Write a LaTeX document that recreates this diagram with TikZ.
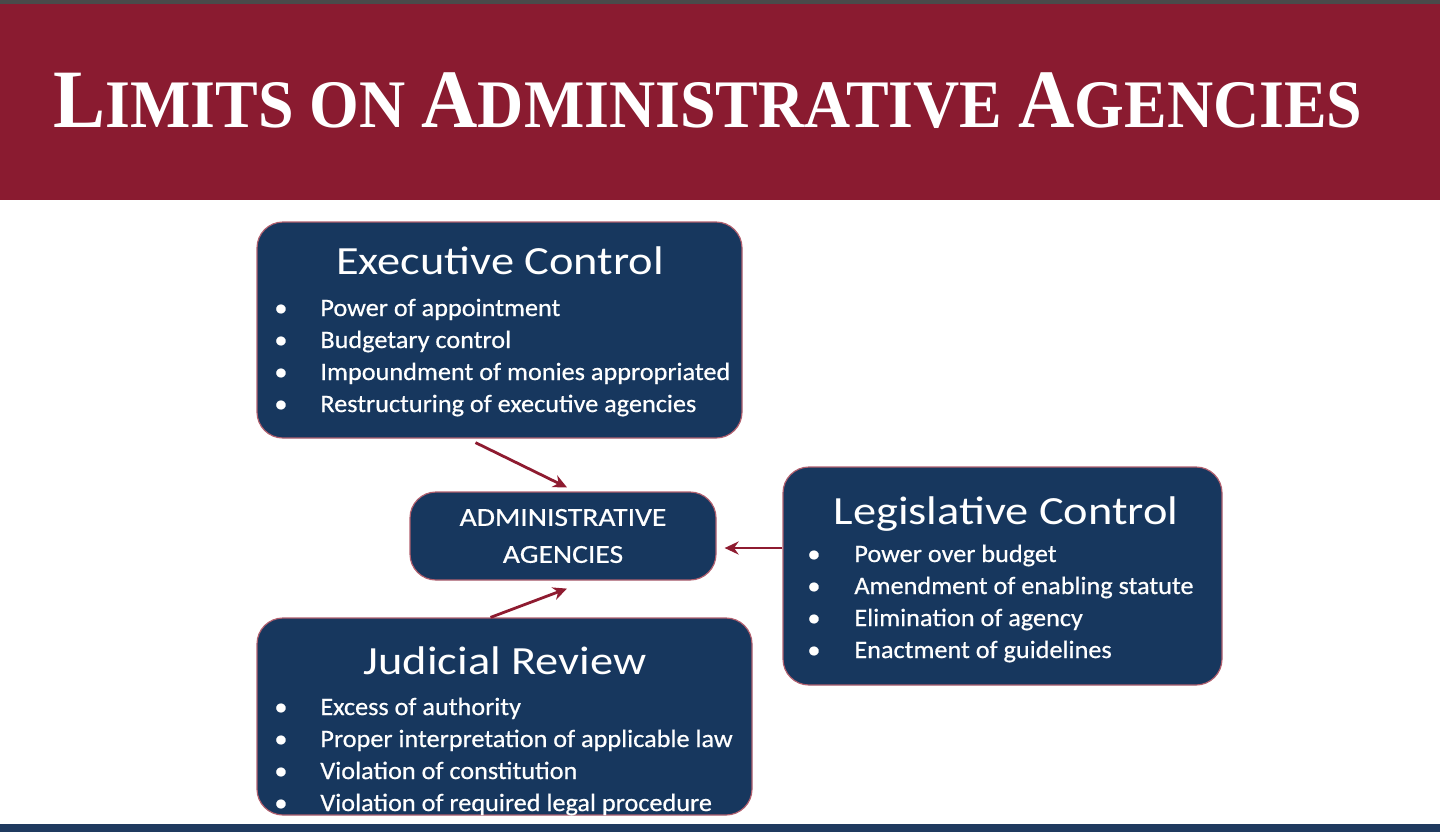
\documentclass[tikz,border=0pt]{standalone}
\usepackage{fontspec}
\setmainfont{Carlito}
\newfontfamily\titlefont[FakeStretch=0.94]{Liberation Serif}
\newfontfamily\headfont[FakeStretch=1.16]{Carlito}
\newfontfamily\entryfont[FakeStretch=1.05, FakeBold=0.6]{Carlito}
\newfontfamily\agencyfont[FakeStretch=1.14, FakeBold=0.6]{Carlito}
\usetikzlibrary{arrows.meta, positioning, calc}
\definecolor{banner}{HTML}{8A1B30}
\definecolor{navy}{HTML}{17375E}
\definecolor{topline}{HTML}{4A4A4A}
\definecolor{footerblue}{HTML}{1F3A5F}
\definecolor{arrowred}{HTML}{8E1B30}

\newcommand{\titlebig}[1]{{\fontsize{41.5}{41.5}\selectfont #1}}
\newcommand{\titlesmall}[1]{{\fontsize{34}{34}\selectfont #1}}

\begin{document}
\begin{tikzpicture}[
  x=0.5pt, y=-0.5pt,
  panel/.style={draw=arrowred!70, line width=0.6pt, fill=navy, rounded corners=13pt},
  heading/.style={text=white, anchor=base, inner sep=0pt, font=\headfont\fontsize{20}{20}\selectfont},
  entry/.style={text=white, anchor=base west, inner sep=0pt, font=\entryfont\fontsize{12.5}{12.5}\selectfont},
  arr/.style={-{Stealth[length=7pt, width=6.5pt]}, color=arrowred, line width=1.4pt}
]
  \useasboundingbox (0,0) rectangle (1440,832);

  % Frame - banner and bottom rule
  \fill[topline] (0,0) rectangle (1440,4);
  \fill[banner] (0,4) rectangle (1440,200);
  \fill[footerblue] (0,824) rectangle (1440,832);
  \node[text=white, anchor=base, inner sep=0pt] (title) at (708,127)
    {\titlefont\bfseries\titlebig{L}\titlesmall{IMITS ON }\titlebig{A}\titlesmall{DMINISTRATIVE }\titlebig{A}\titlesmall{GENCIES}};

  % Boxes
  \node[panel, minimum width=242.5pt, minimum height=108pt] (exec) at (499.5,330) {};
  \node[panel, minimum width=153pt, minimum height=44pt, text=white, align=center,
        font=\agencyfont\fontsize{13}{18.5}\selectfont] (admin) at (563,536) {ADMINISTRATIVE\\AGENCIES};
  \node[panel, minimum width=219.5pt, minimum height=109pt] (leg) at (1002.5,576) {};
  \node[panel, minimum width=247.5pt, minimum height=98.5pt] (jud) at (504.5,716.5) {};

  % Headings
  \node[heading] (exectitle) at (500,274) {Executive Control};
  \node[heading] (legtitle) at (1006,524) {Legislative Control};
  \node[heading] (judtitle) at (505,674) {Judicial Review};

  % Bullet lists
  \foreach \txt [count=\i] in {Power of appointment, Budgetary control,
      Impoundment of monies appropriated, Restructuring of executive agencies}
    \node[entry] (execitem\i) at (274,284+32*\i) {\makebox[23pt][l]{\textbullet}\txt};
  \foreach \txt [count=\i] in {Power over budget, Amendment of enabling statute,
      Elimination of agency, Enactment of guidelines}
    \node[entry] (legitem\i) at (807,530+32*\i) {\makebox[23.5pt][l]{\textbullet}\txt};
  \foreach \txt [count=\i] in {Excess of authority, Proper interpretation of applicable law,
      Violation of constitution, Violation of required legal procedure}
    \node[entry] (juditem\i) at (274,683+32*\i) {\makebox[23pt][l]{\textbullet}\txt};

  % Arrows
  \draw[arr] ([xshift=-12pt, yshift=-2pt]exec.south) -- ([xshift=2pt, yshift=2pt]admin.north);
  \draw[arr] ([yshift=-6pt]admin.east -| leg.west) -- ([xshift=4pt, yshift=-6pt]admin.east);
  \draw[arr] ([xshift=-7pt]jud.north) -- ([xshift=2pt, yshift=-4pt]admin.south);
\end{tikzpicture}
\end{document}
